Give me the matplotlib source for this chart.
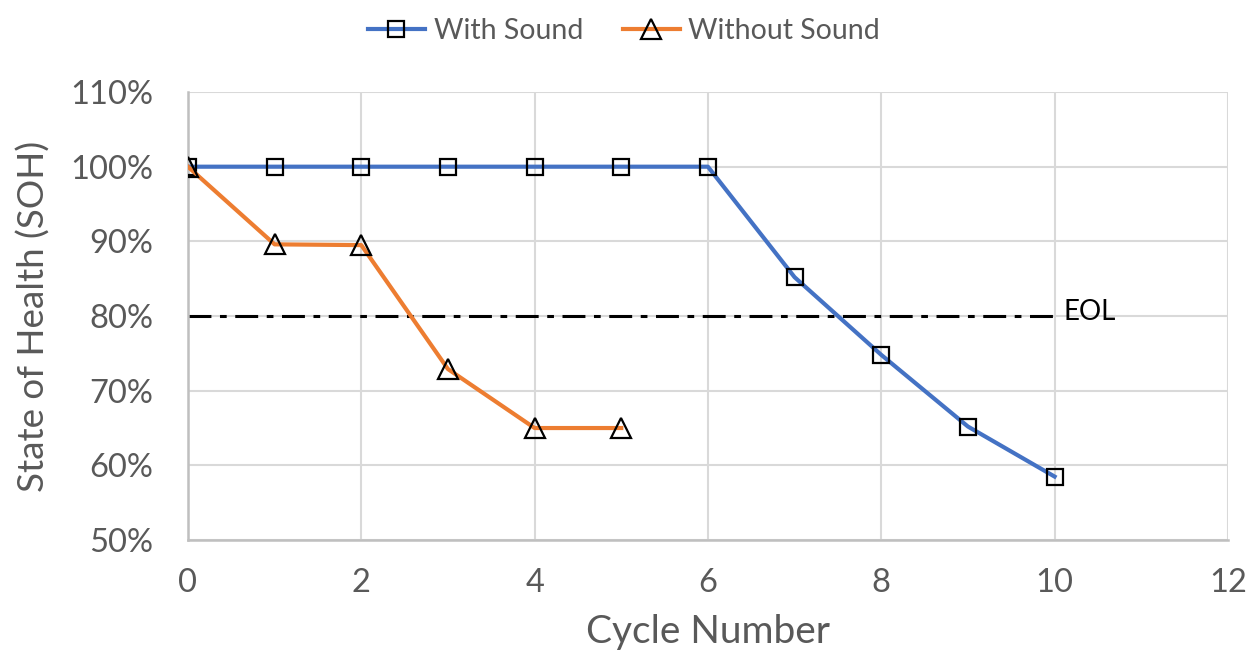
import matplotlib
matplotlib.use("Agg")
import matplotlib.pyplot as plt
from matplotlib.ticker import FuncFormatter, MultipleLocator

cycles_with = [0, 1, 2, 3, 4, 5, 6, 7, 8, 9, 10]
soh_with = [100, 100, 100, 100, 100, 100, 100, 85.2, 74.8, 65.2, 58.5]
cycles_without = [0, 1, 2, 3, 4, 5]
soh_without = [100, 89.6, 89.5, 72.9, 65.0, 65.0]
eol_x = [0, 10]
eol_y = [80, 80]

plt.rcParams['font.family'] = ['Lato', 'DejaVu Sans']
txt = '#595959'

fig = plt.figure(figsize=(12.48, 6.64), dpi=100)
ax = fig.add_axes([0.1506, 0.1867, 0.8333, 0.6747])

ax.plot(eol_x, eol_y, color='black', lw=2.2, dashes=(7.5, 2.8, 2.2, 2.8), zorder=2)
ax.plot(cycles_with, soh_with, color='#4472c4', lw=3, marker='s', ms=12,
        mfc='none', mec='black', mew=1.6, label='With Sound', zorder=3)
ax.plot(cycles_without, soh_without, color='#ed7d31', lw=3, marker='^', ms=14,
        mfc='none', mec='black', mew=1.6, label='Without Sound', zorder=3)
ax.text(10.1, 80.6, 'EOL', fontsize=20, color='black', va='center', ha='left')

ax.set_xlim(0, 12)
ax.set_ylim(50, 110)
ax.xaxis.set_major_locator(MultipleLocator(2))
ax.yaxis.set_major_locator(MultipleLocator(10))
ax.yaxis.set_major_formatter(FuncFormatter(lambda v, p: f"{v:.0f}%"))
ax.grid(True, color='#d9d9d9', lw=1.5)
ax.set_axisbelow(True)
for s in ['top', 'right']:
    ax.spines[s].set_visible(False)
for s in ['left', 'bottom']:
    ax.spines[s].set_color('#bfbfbf')
    ax.spines[s].set_linewidth(1.8)
ax.tick_params(length=0, labelsize=23.5, colors=txt)
ax.tick_params(axis='y', pad=25)
ax.tick_params(axis='x', pad=20)

ax.set_xlabel('Cycle Number', fontsize=28, color=txt, labelpad=12)
ax.set_ylabel('State of Health (SOH)', fontsize=26.5, color=txt, labelpad=14)

fig.legend(loc='upper center', bbox_to_anchor=(0.5, 1.012), ncol=2, frameon=False,
           fontsize=20.5, labelcolor=txt, handlelength=2.0, columnspacing=1.4,
           handletextpad=0.3)

fig.savefig('out.png', dpi=100)
